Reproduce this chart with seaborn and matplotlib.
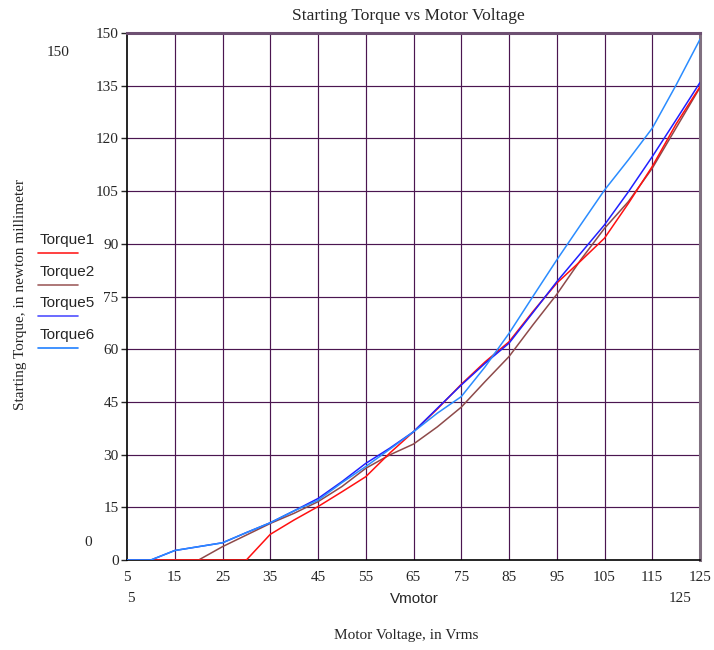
import numpy as np
import pandas as pd
import matplotlib
matplotlib.use("Agg")
import matplotlib.pyplot as plt
from matplotlib.lines import Line2D
import seaborn as sns

# Motor voltage samples (Vrms)
vmotor = [5, 10, 15, 20, 25, 30, 35, 40, 45, 50, 55, 60, 65,
          70, 75, 80, 85, 90, 95, 100, 105, 110, 115, 120, 125]

# Starting torque (N·mm) for each motor
torque1 = [0, 0, 0, 0, 0, 0, 7.3, 11.4, 15.2, 19.4, 23.7, 30.4, 36.5,
           43.0, 50.0, 56.4, 62.1, 70.7, 78.8, 85.1, 91.6, 101.5, 112.0, 124.1, 134.7]
torque2 = [0, 0, 0, 0, 3.8, 7.1, 10.4, 13.3, 16.6, 20.9, 26.1, 29.9, 33.0,
           37.9, 43.5, 50.8, 57.9, 66.9, 75.6, 85.4, 94.4, 102.0, 111.5, 123.0, 134.5]
torque5 = [0, 0, 2.7, 3.8, 4.9, 7.8, 10.6, 14.0, 17.5, 22.3, 27.5, 31.8, 36.5,
           43.2, 49.8, 56.0, 61.7, 70.4, 79.2, 87.3, 95.4, 104.8, 114.8, 125.3, 135.9]
torque6 = [0, 0, 2.7, 3.8, 4.9, 7.8, 10.6, 14.0, 17.0, 22.0, 26.6, 31.5, 36.5,
           41.8, 46.5, 55.0, 64.5, 75.0, 85.4, 95.4, 105.3, 113.9, 122.9, 135.2, 148.2]

series_names = ["Torque1", "Torque2", "Torque5", "Torque6"]
series_vals = [torque1, torque2, torque5, torque6]
line_colors = ["#ff1010", "#8e4a4a", "#2020ff", "#2a8cff"]
legend_colors = ["#ff2020", "#a06060", "#5050ff", "#2080ff"]

x_ticks = [5, 15, 25, 35, 45, 55, 65, 75, 85, 95, 105, 115, 125]
y_ticks = [0, 15, 30, 45, 60, 75, 90, 105, 120, 135, 150]

df = pd.DataFrame({
    "Vmotor": vmotor * len(series_names),
    "Torque": sum(series_vals, []),
    "Series": sum([[n] * len(vmotor) for n in series_names], []),
})

sns.set_theme(style="white")
plt.rcParams["font.family"] = ["Liberation Serif", "DejaVu Serif"]

fig = plt.figure(figsize=(7.14, 6.5), dpi=100)
ax = fig.add_axes([127 / 714, 1 - 560 / 650, 573 / 714, 527 / 650])

grid_col = "#4b1650"
for xv in x_ticks[1:]:
    ax.axvline(xv, color=grid_col, lw=0.85, zorder=0)
for yv in y_ticks[1:]:
    ax.axhline(yv, color=grid_col, lw=0.85, zorder=0)

sns.lineplot(data=df, x="Vmotor", y="Torque", hue="Series",
             palette=dict(zip(series_names, line_colors)),
             hue_order=["Torque2", "Torque1", "Torque5", "Torque6"],
             linewidth=1.1, legend=False, ax=ax, zorder=3)

ax.set_xlim(5, 125)
ax.set_ylim(0, 150)
ax.set_xticks(x_ticks)
ax.set_yticks(y_ticks)
ax.set_xticklabels([str(v) for v in x_ticks], fontsize=11)
ax.set_yticklabels([str(v) for v in y_ticks], fontsize=11)
ax.tick_params(axis="x", length=0, pad=8)
ax.tick_params(axis="y", length=4, width=1, direction="out", pad=2, left=True)
ax.set_xlabel("")
ax.set_ylabel("")

for side in ["left", "bottom"]:
    ax.spines[side].set_color("black")
    ax.spines[side].set_linewidth(1.2)
ax.spines["top"].set_color("#6e5072")
ax.spines["top"].set_linewidth(2.2)
ax.spines["right"].set_color("#807080")
ax.spines["right"].set_linewidth(2.2)

# Titles and annotations
fig.text(408 / 714, 1 - 16 / 650, "Starting Torque vs Motor Voltage",
         ha="center", va="center", fontsize=12.5)
fig.text(406 / 714, 1 - 636 / 650, "Motor Voltage, in Vrms",
         ha="center", va="center", fontsize=11)
fig.text(21 / 714, 1 - 295 / 650, "Starting Torque, in newton millimeter",
         ha="center", va="center", rotation=90, fontsize=11)
fig.text(58 / 714, 1 - 53 / 650, "150", ha="center", va="center", fontsize=11)
fig.text(88 / 714, 1 - 543 / 650, "0", ha="center", va="center", fontsize=11)
fig.text(131 / 714, 1 - 598 / 650, "5", ha="center", va="center", fontsize=11)
fig.text(680 / 714, 1 - 598 / 650, "125", ha="center", va="center", fontsize=11)
fig.text(414 / 714, 1 - 599 / 650, "Vmotor", ha="center", va="center",
         fontsize=11, family=["Liberation Sans", "DejaVu Sans"])

# Legend: name above a short colour sample
leg_text_y = [240, 272, 303, 335]
for name, col, ty in zip(series_names, legend_colors, leg_text_y):
    fig.text(40 / 714, 1 - ty / 650, name, ha="left", va="center",
             fontsize=11, family=["Liberation Sans", "DejaVu Sans"])
    ly = 1 - (ty + 13) / 650
    fig.add_artist(Line2D([38 / 714, 78 / 714], [ly, ly], color=col, lw=1.2,
                          transform=fig.transFigure))

fig.savefig("out.png", dpi=100)
